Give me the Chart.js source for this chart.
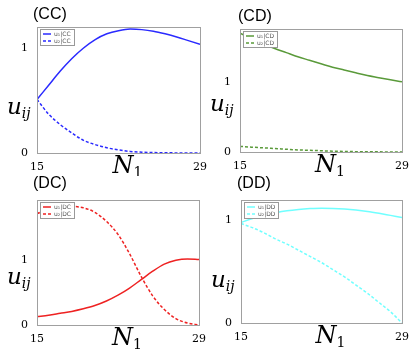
<!DOCTYPE html>
<html>
<head>
<meta charset="utf-8">
<script src="https://cdn.jsdelivr.net/npm/chart.js@4.4.1/dist/chart.umd.min.js"></script>
<style>
  html, body { margin: 0; padding: 0; background: #fff; }
  #wrap { position: relative; width: 415px; height: 352px; overflow: hidden; }
  canvas { position: absolute; }
</style>
</head>
<body>
<div id="wrap">
  <canvas id="cc" width="207" height="176" style="left:0;top:0"></canvas>
  <canvas id="cd" width="208" height="176" style="left:207px;top:0"></canvas>
  <canvas id="dc" width="207" height="176" style="left:0;top:176px"></canvas>
  <canvas id="dd" width="208" height="176" style="left:207px;top:176px"></canvas>
</div>
<script>
// N1 values (x axis)
const n1 = [15, 16, 17, 18, 19, 20, 21, 22, 23, 24, 25, 26, 27, 28, 29];
const xTicks = [15, 29];
const yTicks = [0, 1];

// (CC)
const u1CC = [0.51, 0.645, 0.78, 0.90, 1.00, 1.08, 1.135, 1.165, 1.18, 1.175, 1.16, 1.135, 1.105, 1.07, 1.035];
const u2CC = [0.51, 0.37, 0.27, 0.19, 0.12, 0.08, 0.05, 0.03, 0.015, 0.008, 0.004, 0.002, 0.001, 0, 0];
// (CD)
const u1CD = [1.71, 1.63, 1.56, 1.49, 1.43, 1.37, 1.32, 1.27, 1.22, 1.18, 1.14, 1.10, 1.07, 1.04, 1.01];
const u2CD = [0.08, 0.07, 0.06, 0.05, 0.04, 0.03, 0.025, 0.018, 0.012, 0.008, 0.005, 0.003, 0.002, 0.001, 0];
// (DC)
const u1DC = [0.13, 0.15, 0.18, 0.21, 0.25, 0.30, 0.37, 0.46, 0.57, 0.70, 0.83, 0.94, 1.00, 1.02, 1.01];
const u2DC = [1.72, 1.79, 1.83, 1.83, 1.81, 1.74, 1.60, 1.40, 1.10, 0.75, 0.45, 0.24, 0.10, 0.03, 0];
// (DD)
const u1DD = [0.98, 1.02, 1.05, 1.075, 1.095, 1.108, 1.116, 1.12, 1.118, 1.112, 1.102, 1.088, 1.07, 1.05, 1.03];
const u2DD = [0.97, 0.93, 0.88, 0.82, 0.77, 0.71, 0.65, 0.59, 0.52, 0.45, 0.37, 0.29, 0.20, 0.11, 0];

const yMax = { CC: 1.2, CD: 1.77, DC: 1.93, DD: 1.2 };

//draws the box, title, axis labels and the little legend
const panelText = {
  id: "panelText",
  afterDraw(chart, args, o) {
    const { ctx, chartArea: a } = chart;
    ctx.save();
    ctx.strokeStyle = "#a0a0a0";
    ctx.lineWidth = 1;
    ctx.strokeRect(Math.round(a.left) + 0.5, Math.round(a.top) + 0.5, Math.round(a.right - a.left), Math.round(a.bottom - a.top));

    ctx.fillStyle = "#000";
    ctx.textBaseline = "alphabetic";
    ctx.textAlign = "left";
    ctx.font = '16px "Liberation Sans"';
    ctx.fillText(o.title, o.tx, o.ty);

    // u_ij
    let x = a.left - 30;
    let y = (a.top + a.bottom) / 2 + 14 + o.uy;
    ctx.font = 'italic 23px "DejaVu Serif"';
    ctx.fillText("u", x, y);
    x += ctx.measureText("u").width;
    ctx.font = 'italic 14px "DejaVu Serif"';
    ctx.fillText("ij", x, y + 4);

    // N_1
    x = (a.left + a.right) / 2 - 6;
    y = a.bottom + 20;
    ctx.font = 'italic 24px "DejaVu Serif"';
    ctx.fillText("N", x, y);
    x += ctx.measureText("N").width;
    ctx.font = '14px "DejaVu Serif"';
    ctx.fillText("1", x, y + 4);

    // legend
    const lx = a.left + 3, ly = a.top + 2;
    ctx.fillStyle = "#fff";
    ctx.fillRect(lx, ly, 34, 16);
    ctx.strokeStyle = "#999";
    ctx.strokeRect(lx + 0.5, ly + 0.5, 34, 16);
    chart.data.datasets.forEach((ds, i) => {
      const ry = ly + 5 + i * 7;
      ctx.strokeStyle = ds.borderColor;
      ctx.lineWidth = 1.5;
      ctx.setLineDash(ds.borderDash || []);
      ctx.beginPath();
      ctx.moveTo(lx + 3, ry);
      ctx.lineTo(lx + 11, ry);
      ctx.stroke();
      ctx.setLineDash([]);
      ctx.fillStyle = "#555";
      ctx.font = '6px "DejaVu Sans"';
      ctx.textBaseline = "middle";
      ctx.fillText(ds.label, lx + 14, ry);
    });
    ctx.restore();
  },
};

function makePanel(id, key, u1, u2, color, box) {
  const canvas = document.getElementById(id);
  const H = canvas.height, W = canvas.width;
  new Chart(canvas, {
    type: "line",
    data: {
      labels: n1,
      datasets: [
        { label: "u\u2081|" + key, data: u1, borderColor: color, borderWidth: 1.5 },
        { label: "u\u2082|" + key, data: u2, borderColor: color, borderWidth: 1.5, borderDash: [3, 2] },
      ],
    },
    plugins: [panelText],
    options: {
      responsive: false,
      animation: false,
      devicePixelRatio: 1,
      elements: { point: { radius: 0 }, line: { cubicInterpolationMode: "monotone", fill: false } },
      layout: { padding: { top: box.top, right: W - box.right, left: 0, bottom: 0 } },
      plugins: {
        legend: { display: false },
        tooltip: { enabled: false },
        panelText: { title: "(" + key + ")", tx: box.tx, ty: box.ty, uy: box.uy },
      },
      scales: {
        x: {
          type: "linear",
          min: 15,
          max: 29,
          grid: { display: false },
          border: { display: false },
          afterBuildTicks: (s) => { s.ticks = xTicks.map((v) => ({ value: v })); },
          afterFit: (s) => { s.height = H - box.bottom; },
          ticks: { color: "#000", padding: 0, maxRotation: 0, font: { family: "DejaVu Serif", size: 11 } },
        },
        y: {
          min: 0,
          max: yMax[key],
          grid: { display: false },
          border: { display: false },
          afterBuildTicks: (s) => { s.ticks = yTicks.map((v) => ({ value: v })); },
          afterFit: (s) => { s.width = box.left; },
          ticks: { color: "#000", padding: 1, font: { family: "DejaVu Serif", size: 11 } },
        },
      },
    },
  });
}

makePanel("cc", "CC", u1CC, u2CC, "#2a2aff", { left: 37, right: 200, top: 27, bottom: 153, tx: 33, ty: 19, uy: 10 });
makePanel("cd", "CD", u1CD, u2CD, "#5a9a3a", { left: 33, right: 195, top: 29, bottom: 152, tx: 31, ty: 21, uy: 6 });
makePanel("dc", "DC", u1DC, u2DC, "#ee2222", { left: 37, right: 199, top: 24, bottom: 149, tx: 33, ty: 12, uy: 7 });
makePanel("dd", "DD", u1DD, u2DD, "#70ffff", { left: 34, right: 195, top: 24, bottom: 147, tx: 30, ty: 12, uy: 11 });
</script>
</body>
</html>
